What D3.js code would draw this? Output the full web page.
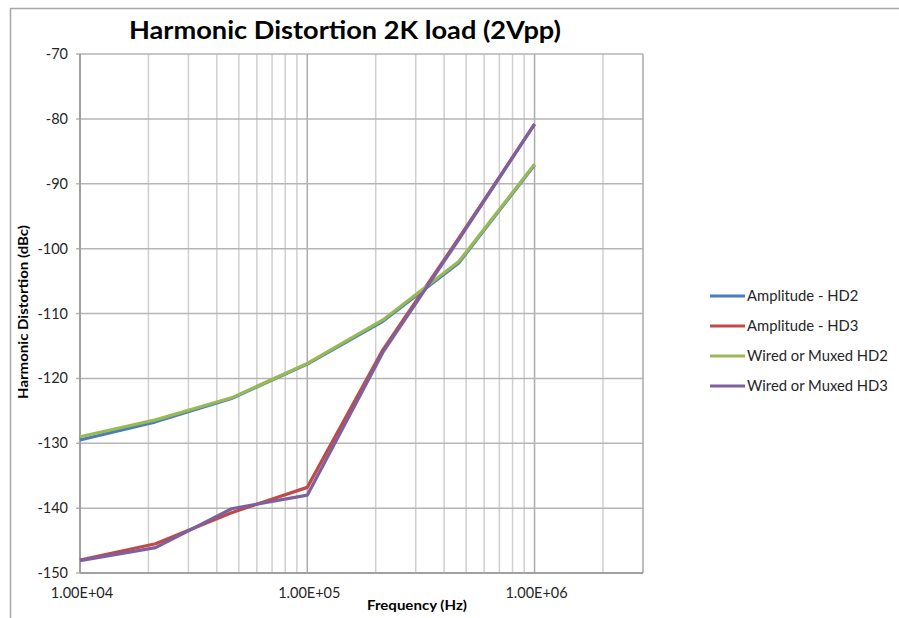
<!DOCTYPE html>
<html>
<head>
<meta charset="utf-8">
<script src="https://cdn.jsdelivr.net/npm/d3@7"></script>
<style>
  body { margin: 0; background: #fff; }
  text { font-family: Lato, "Open Sans", sans-serif; fill: #262626; }
</style>
</head>
<body>
<div id="root"></div>
<script>
const frequencies = [1e4, 2.15e4, 4.64e4, 1e5, 2.15e5, 4.64e5, 1e6];
const amplitudeHD2 = [-129.5, -126.7, -123.1, -117.8, -111.2, -102.2, -87.1];
const amplitudeHD3 = [-148.0, -145.5, -140.7, -136.8, -115.6, -98.4, -80.8];
const wiredHD2 = [-129.0, -126.4, -123.0, -117.7, -111.0, -102.0, -87.0];
const wiredHD3 = [-148.1, -146.1, -140.1, -138.0, -116.0, -98.6, -80.8];

const seriesNames = ["Amplitude - HD2", "Amplitude - HD3", "Wired or Muxed HD2", "Wired or Muxed HD3"];
const seriesValues = [amplitudeHD2, amplitudeHD3, wiredHD2, wiredHD3];
const seriesColors = ["#4a7ebb", "#be4b48", "#98b954", "#7d60a0"];

const yTicks = [-70, -80, -90, -100, -110, -120, -130, -140, -150];
const xTicks = [1e4, 1e5, 1e6];

const width = 899;
const height = 618;

const svg = d3.select("#root")
  .append("svg")
    .attr("width", width)
    .attr("height", height);

// outer chart frame (clipped on right/bottom)
svg.append("path")
  .attr("d", `M10.5,${height} V8.5 H${width}`)
  .attr("fill", "none")
  .attr("stroke", "#a6a6a6")
  .attr("stroke-width", 1.5);

const x = d3.scaleLog().domain([1e4, 3e6]).range([80, 643]);
const y = d3.scaleLinear().domain([-150, -70]).range([573, 54]);

// vertical grid (minor + decades)
const minor = [];
[1e4, 1e5, 1e6].forEach(d => {
  for (let m = 2; m <= 9; m++) if (d * m <= 3e6) minor.push(d * m);
});

svg.append("g")
  .selectAll("line")
  .data(minor)
  .join("line")
    .attr("x1", d => x(d)).attr("x2", d => x(d))
    .attr("y1", y(-70)).attr("y2", y(-150))
    .attr("stroke", "#cfcfcf")
    .attr("stroke-width", 1.5);

svg.append("g")
  .selectAll("line")
  .data(xTicks.slice(1))
  .join("line")
    .attr("x1", d => x(d)).attr("x2", d => x(d))
    .attr("y1", y(-70)).attr("y2", y(-150))
    .attr("stroke", "#ababab")
    .attr("stroke-width", 1.5);

// horizontal grid
svg.append("g")
  .selectAll("line")
  .data(yTicks)
  .join("line")
    .attr("x1", 76).attr("x2", x(3e6))
    .attr("y1", d => y(d)).attr("y2", d => y(d))
    .attr("stroke", "#b5b5b5")
    .attr("stroke-width", 1.5);

// plot borders
svg.append("line")
  .attr("x1", x(3e6)).attr("x2", x(3e6))
  .attr("y1", y(-70)).attr("y2", y(-150))
  .attr("stroke", "#b5b5b5").attr("stroke-width", 1.5);
svg.append("line")
  .attr("x1", x(1e4)).attr("x2", x(1e4))
  .attr("y1", y(-70)).attr("y2", y(-150))
  .attr("stroke", "#a0a0a0").attr("stroke-width", 2);
svg.append("line")
  .attr("x1", x(1e4)).attr("x2", x(3e6))
  .attr("y1", y(-150)).attr("y2", y(-150))
  .attr("stroke", "#a0a0a0").attr("stroke-width", 2);

// y tick labels
svg.append("g")
  .selectAll("text")
  .data(yTicks)
  .join("text")
    .attr("x", 68)
    .attr("y", d => y(d) + 5)
    .attr("text-anchor", "end")
    .attr("font-size", 14.5)
    .text(d => d);

// x tick labels
svg.append("g")
  .selectAll("text")
  .data(xTicks)
  .join("text")
    .attr("x", d => x(d) + 2)
    .attr("y", 598)
    .attr("text-anchor", "middle")
    .attr("font-size", 14.5)
    .text(d => d.toExponential(2).toUpperCase().replace("E+", "E+0"));

// series
const line = d3.line()
  .x((d, i) => x(frequencies[i]))
  .y(d => y(d));

svg.append("g")
  .selectAll("path")
  .data(seriesValues)
  .join("path")
    .attr("d", line)
    .attr("fill", "none")
    .attr("stroke", (d, i) => seriesColors[i])
    .attr("stroke-width", 3.2)
    .attr("stroke-linejoin", "round");

// titles
svg.append("text")
  .attr("x", 345)
  .attr("y", 39)
  .attr("text-anchor", "middle")
  .attr("font-size", 24)
  .attr("font-weight", "bold")
  .attr("textLength", 432)
  .attr("lengthAdjust", "spacingAndGlyphs")
  .style("fill", "#000")
  .text("Harmonic Distortion 2K load (2Vpp)");

svg.append("text")
  .attr("x", 417)
  .attr("y", 610)
  .attr("text-anchor", "middle")
  .attr("font-size", 14)
  .attr("font-weight", "bold")
  .attr("textLength", 100)
  .attr("lengthAdjust", "spacingAndGlyphs")
  .style("fill", "#000")
  .text("Frequency (Hz)");

svg.append("text")
  .attr("transform", "translate(28, 312) rotate(-90)")
  .attr("text-anchor", "middle")
  .attr("font-size", 13)
  .attr("font-weight", "bold")
  .attr("textLength", 174)
  .attr("lengthAdjust", "spacingAndGlyphs")
  .style("fill", "#000")
  .text("Harmonic Distortion (dBc)");

// legend
const legend = svg.append("g")
  .selectAll("g")
  .data(seriesNames)
  .join("g")
    .attr("transform", (d, i) => `translate(710, ${296 + i * 30})`);

legend.append("line")
  .attr("x1", 0).attr("x2", 35)
  .attr("stroke", (d, i) => seriesColors[i])
  .attr("stroke-width", 3);

legend.append("text")
  .attr("x", 37)
  .attr("y", 5)
  .attr("font-size", 14.8)
  .text(d => d);
</script>
</body>
</html>
